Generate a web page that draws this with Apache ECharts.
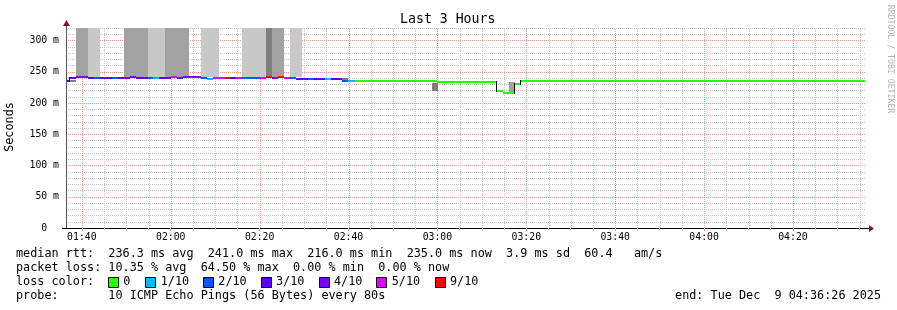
<!DOCTYPE html>
<html><head><meta charset="utf-8">
<script src="https://cdn.jsdelivr.net/npm/echarts@6/dist/echarts.min.js"></script>
<style>html,body{margin:0;padding:0;background:#fff}#c{width:897px;height:310px}</style>
</head><body><div id="c"></div>
<script>
// time axis in minutes of the day (01:36:26 .. 04:36:26)
const startTime = 96.4333;
const endTime = 276.4333;
const majorTicks = [100, 120, 140, 160, 180, 200, 220, 240, 260];
const minorTicks = [100, 105, 110, 115, 120, 125, 130, 135, 140, 145, 150, 155, 160, 165, 170, 175, 180, 185,
  190, 195, 200, 205, 210, 215, 220, 225, 230, 235, 240, 245, 250, 255, 260, 265, 270, 275];
const yLabelValues = [0, 50, 100, 150, 200, 250, 300];

// median rtt (ms) step segments with number of lost pings (of 10)
const medStart = [96.62, 97.37, 98.72, 101.42, 102.77, 104.12, 105.47, 106.82, 108.17, 109.52, 110.87, 112.22,
  114.92, 115.98, 117.46, 120.09, 121.44, 122.79, 126.85, 128.13, 129.48, 130.83, 132.18, 133.37, 134.72,
  136.07, 140.12, 141.47, 142.82, 144.17, 145.52, 146.87, 148.22, 150.92, 152.27, 154.68, 156.03, 158.57,
  159.92, 161.43, 179.95, 193.38, 194.73, 197.50, 198.74];
const medEnd = 276.26;
const medValue = [236, 239.5, 241, 240, 240, 240.5, 240, 240.5, 240, 240.5, 241, 240,
  240, 239.5, 240, 241, 240, 241, 240.5, 238.5, 240.5, 240, 240.5, 240, 240.5,
  240.5, 240.5, 241, 240.5, 241, 240.5, 240, 238.5, 238.5, 238.5, 238.5, 238.5, 235.5,
  235, 235.5, 233.5, 219, 216, 231, 235];
const medLoss = [3, 3, 4, 3, 2, 3, 3, 2, 3, 4, 4, 3,
  2, 1, 3, 5, 3, 4, 2, 1, 5, 5, 9, 3, 5,
  2, 5, 9, 4, 9, 5, 2, 3, 2, 3, 1, 3, 2,
  1, 0, 0, 0, 0, 0, 0];

// smoke (ping spread) blocks
const smokeStart = [96.62, 98.72, 101.42, 109.52, 114.92, 118.74, 126.85, 136.07, 141.47, 142.82, 146.87, 158.57, 178.83, 196.08];
const smokeEnd   = [98.72, 101.42, 104.12, 114.92, 118.74, 124.14, 130.83, 141.47, 142.82, 145.52, 149.57, 159.92, 180.18, 197.50];
const smokeLow   = [234, 242, 242, 242, 242, 242, 242, 242, 242, 242, 242, 236.5, 219.5, 217];
const smokeHigh  = [237.5, 320, 320, 320, 320, 320, 320, 320, 320, 320, 320, 239.5, 232.5, 233];
const smokeShade = [2, 1, 0, 1, 0, 1, 0, 0, 2, 1, 0, 2, 2, 1];

const lossLevels = [0, 1, 2, 3, 4, 5, 9];
const lossLabels = ['0', '1/10', '2/10', '3/10', '4/10', '5/10', '9/10'];
const lossColors = ['#26ff00', '#00b8ff', '#0059ff', '#5e00ff', '#7e00ff', '#dd00ff', '#ff0000'];
const smokeColors = ['#c8c8c8', '#a2a2a2', '#7f7f7f'];

const statLines = [
  'median rtt:  236.3 ms avg  241.0 ms max  216.0 ms min  235.0 ms now  3.9 ms sd  60.4   am/s',
  'packet loss: 10.35 % avg  64.50 % max  0.00 % min  0.00 % now',
  'loss color:',
  'probe:       10 ICMP Echo Pings (56 Bytes) every 80s'
];
const endText = 'end: Tue Dec  9 04:36:26 2025';

// layout / style
const MONO = '"DejaVu Sans Mono", monospace';
const majorGrid = '#ff9494';
const minorGrid = '#c6c6c6';
const legendSquareX = [108.5, 145.5, 203.5, 261.5, 319.5, 376.5, 435.5];
const legendTextX = [123.3, 160.7, 218.3, 276, 334, 391.7, 450];

function fmtTime(v) {
  const h = Math.floor(v / 60 + 1e-6), m = Math.round(v - h * 60);
  return String(h).padStart(2, '0') + ':' + String(m).padStart(2, '0');
}

const chart = echarts.init(document.getElementById('c'), null, {renderer: 'canvas'});

const graphics = [
  {type: 'text', x: 447.7, y: 19.5, style: {text: 'Last 3 Hours', font: '13.2px ' + MONO, fill: '#000',
    align: 'center', verticalAlign: 'middle', textAlign: 'center', textVerticalAlign: 'middle'}},
  {type: 'text', x: 10, y: 127, rotation: Math.PI / 2, style: {text: 'Seconds', font: '11.8px ' + MONO, fill: '#000',
    align: 'center', verticalAlign: 'middle', textAlign: 'center', textVerticalAlign: 'middle'}},
  {type: 'text', x: 890.5, y: 59, rotation: -Math.PI / 2, style: {text: 'RRDTOOL / TOBI OETIKER', font: '8.2px ' + MONO, fill: '#b4b4b4',
    align: 'center', verticalAlign: 'middle', textAlign: 'center', textVerticalAlign: 'middle'}},
  {type: 'line', shape: {x1: 62, y1: 228.5, x2: 66, y2: 228.5}, style: {stroke: '#000', lineWidth: 1}},
  {type: 'line', shape: {x1: 866, y1: 228.5, x2: 870, y2: 228.5}, style: {stroke: '#000', lineWidth: 1}},
  {type: 'polygon', shape: {points: [[869, 225], [874, 228.5], [869, 232]]}, style: {fill: '#7a1c1c'}},
  {type: 'line', shape: {x1: 66.5, y1: 28, x2: 66.5, y2: 23}, style: {stroke: '#555', lineWidth: 1}},
  {type: 'polygon', shape: {points: [[63, 26], [66.5, 20], [70, 26]]}, style: {fill: '#7a1c1c'}}
];
statLines.forEach((t, i) => {
  graphics.push({type: 'text', x: 16, y: 254 + i * 14, style: {text: t, font: '11.8px ' + MONO, fill: '#000',
    align: 'left', verticalAlign: 'middle', textAlign: 'left', textVerticalAlign: 'middle'}});
});
graphics.push({type: 'text', x: 881, y: 296, style: {text: endText, font: '11.8px ' + MONO, fill: '#000',
  align: 'right', verticalAlign: 'middle', textAlign: 'right', textVerticalAlign: 'middle'}});
lossLabels.forEach((lab, i) => {
  graphics.push({type: 'rect', shape: {x: legendSquareX[i], y: 277.5, width: 10, height: 10},
    style: {fill: lossColors[i], stroke: '#000', lineWidth: 1}});
  graphics.push({type: 'text', x: legendTextX[i], y: 282, style: {text: lab, font: '11.8px ' + MONO, fill: '#000',
    align: 'left', verticalAlign: 'middle', textAlign: 'left', textVerticalAlign: 'middle'}});
});

const option = {
  animation: false,
  backgroundColor: '#ffffff',
  grid: {left: 66, right: 31, top: 28, bottom: 82, containLabel: false},
  xAxis: [{
    type: 'value', min: startTime, max: endTime,
    axisLine: {show: true, lineStyle: {color: '#000', width: 1}},
    splitLine: {show: false},
    axisTick: {show: true, customValues: majorTicks, length: 3, lineStyle: {color: '#f08080'}},
    axisLabel: {customValues: majorTicks, formatter: fmtTime, fontFamily: MONO, fontSize: 9.8, color: '#000', margin: 4}
  }, {
    type: 'value', min: startTime, max: endTime, position: 'bottom',
    axisLine: {show: false}, splitLine: {show: false}, axisLabel: {show: false},
    axisTick: {show: true, customValues: minorTicks, length: 2, lineStyle: {color: '#c0c0c0'}}
  }],
  yAxis: {
    type: 'value', min: 0, max: 320, interval: 10,
    axisLine: {show: true, lineStyle: {color: '#555', width: 1}},
    axisTick: {show: false},
    axisLabel: {customValues: yLabelValues, formatter: v => (v === 0 ? '0  ' : v + ' m'),
      fontFamily: MONO, fontSize: 9.8, color: '#000', margin: 7},
    splitLine: {show: true, lineStyle: {color: [majorGrid, minorGrid, minorGrid, minorGrid, minorGrid], type: [1, 1], width: 1}}
  },
  series: [{
    type: 'custom', name: 'vgrid', clip: false, z: 1, silent: true,
    data: minorTicks.map(v => [v]),
    encode: {x: 0},
    renderItem(params, api) {
      const v = api.value(0);
      const p0 = api.coord([v, 0]);
      const p1 = api.coord([v, 320]);
      const x = Math.round(p0[0]) + 0.5;
      const major = majorTicks.indexOf(Math.round(v)) >= 0;
      return {type: 'line', shape: {x1: x, y1: p0[1], x2: x, y2: p1[1]},
        style: {stroke: major ? majorGrid : minorGrid, lineWidth: 1, lineDash: [1, 1]}};
    }
  }, {
    type: 'custom', name: 'smoke', clip: true, z: 2, silent: true,
    data: smokeStart.map((s, i) => [s, smokeEnd[i], smokeLow[i], smokeHigh[i], smokeShade[i]]),
    encode: {x: [0, 1], y: [2, 3]},
    renderItem(params, api) {
      const p0 = api.coord([api.value(0), api.value(3)]);
      const p1 = api.coord([api.value(1), api.value(2)]);
      const x0 = Math.round(p0[0]), x1 = Math.round(p1[0]);
      return {type: 'rect', shape: {x: x0, y: Math.round(p0[1]), width: x1 - x0, height: Math.round(p1[1]) - Math.round(p0[1])},
        style: {fill: smokeColors[api.value(4)]}};
    }
  }, {
    type: 'custom', name: 'median', clip: true, z: 4, silent: true,
    data: medStart.map((s, i) => [s, i + 1 < medStart.length ? medStart[i + 1] : medEnd, medValue[i], medLoss[i], i > 0 ? medValue[i - 1] : medValue[i]]),
    encode: {x: [0, 1], y: [2, 4]},
    renderItem(params, api) {
      const t0 = api.value(0), t1 = api.value(1), v = api.value(2), prev = api.value(4);
      const a = api.coord([t0, v]), b = api.coord([t1, v]), pv = api.coord([t0, prev]);
      const color = lossColors[lossLevels.indexOf(api.value(3))];
      const x0 = Math.round(a[0]), x1 = Math.round(b[0]);
      const y = Math.round(a[1]), yp = Math.round(pv[1]);
      const children = [];
      if (Math.abs(y - yp) >= 3) {
        children.push({type: 'rect', shape: {x: x0 - 1, y: Math.min(y, yp) - 1, width: 1, height: Math.abs(y - yp) + 2}, style: {fill: '#000'}});
      }
      children.push({type: 'rect', shape: {x: x0, y: y - 1, width: x1 - x0, height: 2}, style: {fill: color}});
      return {type: 'group', children};
    }
  }],
  graphic: graphics
};
chart.setOption(option);
</script>
</body></html>
